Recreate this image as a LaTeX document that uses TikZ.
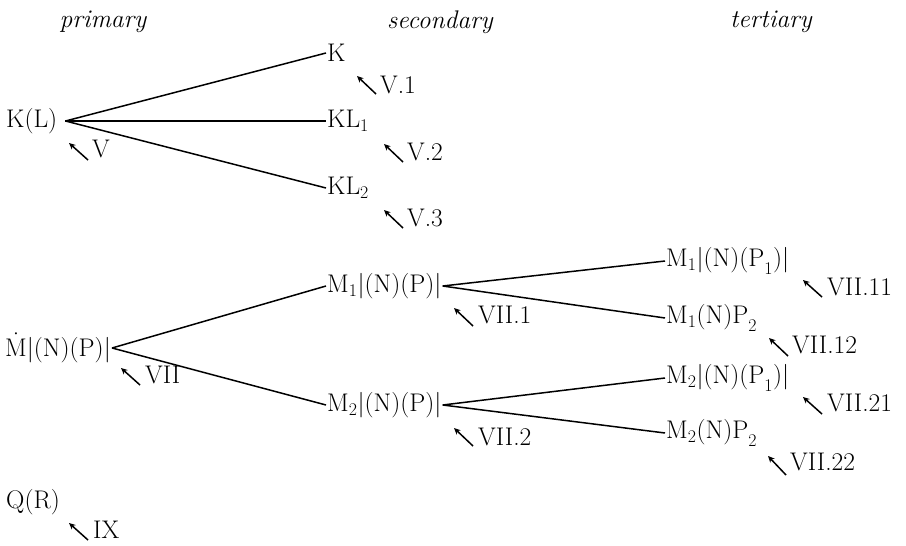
\RequirePackage{fix-cm}
\documentclass[tikz,border=0pt]{standalone}
\usetikzlibrary{arrows.meta}
\begin{document}
\begin{tikzpicture}[x=1pt,y=-1pt,
  lbl/.style={anchor=west, inner sep=1pt, font=\fontsize{25.5}{30}\selectfont},
  hdr/.style={font=\fontsize{25.5}{30}\selectfont\itshape},
  refl/.style={anchor=west, inner sep=0pt, font=\fontsize{25.5}{30}\selectfont},
  branch/.style={line width=1.5pt},
  ptr/.style={line width=1.5pt, -{Stealth[length=6.5pt,width=6pt]}}]
\useasboundingbox (0,0) rectangle (906,546);

% headers
\node[hdr] (hp) at (103,22) {primary};
\node[hdr] (hs) at (440,22) {secondary};
\node[hdr] (ht) at (771,22) {tertiary};

% primary
\node[lbl] (kl) at (5,121) {$\mathrm{K(L)}$};
\node[lbl] (m0) at (4,348) {$\dot{\mathrm{M}}|\mathrm{(N)(P)}|$};
\node[lbl] (qr) at (5,502) {$\mathrm{Q(R)}$};

% secondary
\node[lbl] (k) at (326,53) {$\mathrm{K}$};
\node[lbl] (kl1) at (326,121) {$\mathrm{KL}_1$};
\node[lbl] (kl2) at (326,188) {$\mathrm{KL}_2$};
\node[lbl] (m1) at (326,286) {$\mathrm{M}_1|\mathrm{(N)(P)}|$};
\node[lbl] (m2) at (326,405) {$\mathrm{M}_2|\mathrm{(N)(P)}|$};

% tertiary
\node[lbl] (m11) at (665,261) {$\mathrm{M}_1|\mathrm{(N)(P}_1\mathrm{)}|$};
\node[lbl] (m12) at (665,318) {$\mathrm{M}_1\mathrm{(N)P}_2$};
\node[lbl] (m21) at (665,378) {$\mathrm{M}_2|\mathrm{(N)(P}_1\mathrm{)}|$};
\node[lbl] (m22) at (665,433) {$\mathrm{M}_2\mathrm{(N)P}_2$};

% branch junctions
\coordinate (jk) at ([xshift=7pt]kl.east);
\draw[branch] (jk) -- (k.west);
\draw[branch] (jk) -- (kl1.west);
\draw[branch] (jk) -- (kl2.west);
\draw[branch] (m0.east) -- (m1.west);
\draw[branch] (m0.east) -- (m2.west);
\draw[branch] (m1.east) -- (m11.west);
\draw[branch] (m1.east) -- (m12.west);
\draw[branch] (m2.east) -- (m21.west);
\draw[branch] (m2.east) -- (m22.west);

% reference labels with pointers
\node[refl] (rv) at (92,149) {V};
\coordinate (rvt) at (88,160); \coordinate (rvh) at (69,143);
\draw[ptr] (rvt) -- (rvh);

\node[refl] (rvii) at (145,375) {VII};
\coordinate (rviit) at (140,385); \coordinate (rviih) at (121,368);
\draw[ptr] (rviit) -- (rviih);

\node[refl] (rix) at (93,530) {IX};
\coordinate (rixt) at (88,540); \coordinate (rixh) at (69,523);
\draw[ptr] (rixt) -- (rixh);

\node[refl] (rv1) at (380,85) {V.1};
\coordinate (rv1t) at (376,94); \coordinate (rv1h) at (357,76);
\draw[ptr] (rv1t) -- (rv1h);

\node[refl] (rv2) at (407,152) {V.2};
\coordinate (rv2t) at (403,162); \coordinate (rv2h) at (384,144);
\draw[ptr] (rv2t) -- (rv2h);

\node[refl] (rv3) at (407,218) {V.3};
\coordinate (rv3t) at (403,228); \coordinate (rv3h) at (384,210);
\draw[ptr] (rv3t) -- (rv3h);

\node[refl] (rvii1) at (478,315) {VII.1};
\coordinate (rvii1t) at (473,326); \coordinate (rvii1h) at (454,308);
\draw[ptr] (rvii1t) -- (rvii1h);

\node[refl] (rvii2) at (478,437) {VII.2};
\coordinate (rvii2t) at (473,446); \coordinate (rvii2h) at (454,428);
\draw[ptr] (rvii2t) -- (rvii2h);

\node[refl] (rvii11) at (827,287) {VII.11};
\coordinate (rvii11t) at (822,297); \coordinate (rvii11h) at (803,280);
\draw[ptr] (rvii11t) -- (rvii11h);

\node[refl] (rvii12) at (792,345) {VII.12};
\coordinate (rvii12t) at (788,356); \coordinate (rvii12h) at (769,338);
\draw[ptr] (rvii12t) -- (rvii12h);

\node[refl] (rvii21) at (827,403) {VII.21};
\coordinate (rvii21t) at (822,414); \coordinate (rvii21h) at (803,397);
\draw[ptr] (rvii21t) -- (rvii21h);

\node[refl] (rvii22) at (790,462) {VII.22};
\coordinate (rvii22t) at (786,475); \coordinate (rvii22h) at (768,456);
\draw[ptr] (rvii22t) -- (rvii22h);
\end{tikzpicture}
\end{document}
